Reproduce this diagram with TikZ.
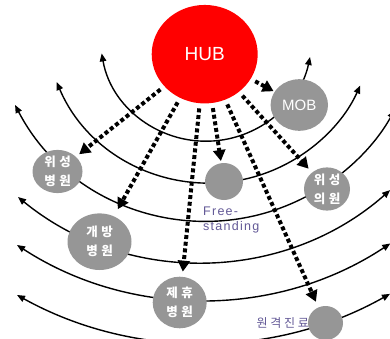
\documentclass[tikz,border=0pt]{standalone}
\usepackage{fontspec}
\setmainfont{Liberation Sans}
\newfontfamily\krfont{Noto Sans CJK KR}[LetterSpace=28]
\newfontfamily\krnote{Noto Sans CJK KR}[LetterSpace=22]
\newfontfamily\freefont{Liberation Sans}[LetterSpace=10]
\usetikzlibrary{arrows.meta,shapes.geometric}
\definecolor{hubred}{RGB}{255,0,0}
\definecolor{bubblegray}{RGB}{150,150,150}
\definecolor{notepurple}{RGB}{98,88,150}
\begin{document}
\begin{tikzpicture}[x=1pt,y=-1pt,
  bubble/.style={ellipse, fill=bubblegray, draw=none, inner sep=0pt, text=white, align=center,
    font=\krfont\bfseries\fontsize{12.5}{18.8}\selectfont},
  hubnode/.style={ellipse, fill=hubred, draw=none, inner sep=0pt, text=white,
    font=\fontsize{19}{22}\selectfont},
  orbit/.style={line width=1.4pt, {Triangle[length=8pt,width=6.5pt]}-{Triangle[length=8pt,width=6.5pt]}},
  feed/.style={line width=4pt, dash pattern=on 4pt off 2.7pt, -{Triangle[length=11pt,width=12pt]}, shorten <=5pt, shorten >=4pt},
  note/.style={text=notepurple, inner sep=0pt}
]
\useasboundingbox (0,0) rectangle (390,339);

% orbit arcs (centres, start points)
\coordinate (o1) at (206.2,35.1);
\coordinate (o2) at (209.2,17.3);
\coordinate (o3) at (206.2,5.9);
\coordinate (o4) at (200,-25.4);
\coordinate (o5) at (202.5,-40.3);
\coordinate (o6) at (202.5,-39.4);
\path (o1) ++(170.07:106.1) coordinate (s1);
\path (o2) ++(156.97:165.7) coordinate (s2);
\path (o3) ++(152.6:215.3) coordinate (s3);
\path (o4) ++(129.29:287.4) coordinate (s4);
\path (o5) ++(123.03:340.3) coordinate (s5);
\path (o6) ++(119.02:382.4) coordinate (s6);
\draw[orbit] (s1) arc[start angle=170.07, end angle=11.91, radius=106.1];
\draw[orbit] (s2) arc[start angle=156.97, end angle=24.32, radius=165.7];
\draw[orbit] (s3) arc[start angle=152.6, end angle=29, radius=215.3];
\draw[orbit] (s4) arc[start angle=129.29, end angle=48.58, radius=287.4];
\draw[orbit] (s5) arc[start angle=123.03, end angle=56.5, radius=340.3];
\draw[orbit] (s6) arc[start angle=119.02, end angle=60.64, radius=382.4];

% nodes
\node[hubnode, minimum width=106pt, minimum height=98.5pt] (hub) at (204.7,54.2) {HUB};
\node[bubble, minimum width=57.4pt, minimum height=51.6pt, font=\fontsize{15}{17}\selectfont] (mob) at (299.3,105) {MOB};
\node[bubble, minimum width=50pt, minimum height=43pt] (wsb) at (57.5,171.5) {위성\\병원};
\node[bubble, minimum width=38pt, minimum height=37pt] (free) at (224,181.5) {};
\node[bubble, minimum width=46pt, minimum height=43pt] (wsu) at (327,189) {위성\\의원};
\node[bubble, minimum width=64pt, minimum height=56.6pt] (gb) at (99.5,241.7) {개방\\병원};
\node[bubble, minimum width=54pt, minimum height=51.6pt] (jh) at (179.7,302.5) {제휴\\병원};
\node[bubble, minimum width=35pt, minimum height=34pt] (wg) at (325.5,323) {};

\node[note, font=\freefont\fontsize{12.5}{15}\selectfont, align=left, anchor=north west] (fs) at (203,207) {Free-\\standing};
\node[note, font=\krnote\fontsize{12}{14}\selectfont, anchor=east] (wgt) at (309,323) {원격진료};

% feed arrows from the hub
\draw[feed] (hub) -- (wsb);
\draw[feed, shorten >=8pt] (hub) -- (gb);
\draw[feed, shorten >=5pt] (hub) -- (jh);
\draw[feed, shorten >=2pt] (hub) -- (free);
\draw[feed, shorten >=6pt] (hub) -- (wg);
\draw[feed, shorten >=5pt] (hub) -- (wsu);
\draw[feed, shorten >=1pt] (hub) -- (mob);
\end{tikzpicture}
\end{document}
